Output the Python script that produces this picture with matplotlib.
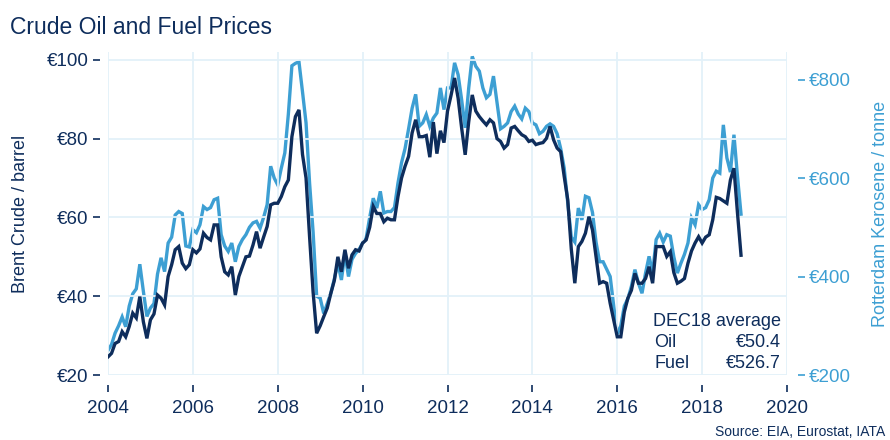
import numpy as np
import matplotlib
matplotlib.use("Agg")
import matplotlib.pyplot as plt
import matplotlib.ticker as mticker

plt.rcParams['font.family'] = ['Liberation Sans', 'DejaVu Sans']

NAVY = '#0e2d5c'
LIGHT = '#3d9fd3'
GRID = '#e3f1f9'

# monthly averages, Jan 2004 .. Dec 2018
brent = [
    24.6, 25.5, 28.0, 28.5, 31.0, 29.7, 32.3, 35.7, 34.5, 39.9, 33.5, 29.3,   # 2004
    34.0, 35.5, 40.3, 39.5, 37.8, 45.0, 48.0, 51.8, 52.6, 48.4, 47.0, 48.0,   # 2005
    51.8, 51.0, 52.0, 56.0, 54.9, 54.3, 58.1, 58.1, 50.0, 46.2, 45.4, 47.5,   # 2006
    40.3, 45.0, 47.5, 50.0, 50.2, 53.0, 56.4, 52.2, 55.0, 57.7, 63.2, 63.6,   # 2007
    63.6, 65.3, 67.8, 69.5, 80.5, 85.6, 87.3, 76.0, 70.0, 55.1, 41.0, 30.6,   # 2008
    32.5, 34.8, 37.0, 40.7, 44.0, 50.0, 46.2, 51.8, 47.1, 50.5, 51.8, 51.5,   # 2009
    53.5, 54.3, 57.5, 62.8, 61.0, 61.0, 58.9, 59.8, 59.4, 59.4, 65.3, 70.0,   # 2010
    73.0, 75.5, 81.5, 84.8, 80.5, 80.5, 80.8, 75.3, 84.2, 76.2, 82.0, 79.0,   # 2011
    87.0, 91.0, 95.4, 90.3, 82.7, 75.9, 84.3, 91.1, 87.0, 85.6, 84.5, 83.5,   # 2012
    84.8, 84.0, 80.0, 79.3, 77.6, 78.5, 82.7, 83.1, 82.0, 81.0, 80.5, 79.3,   # 2013
    79.6, 78.5, 78.8, 79.0, 80.1, 83.1, 79.7, 77.6, 76.7, 70.4, 64.5, 52.0,   # 2014
    43.3, 52.6, 53.9, 56.0, 60.2, 56.8, 50.0, 43.3, 43.7, 43.3, 38.2, 34.0,   # 2015
    29.7, 29.7, 36.0, 39.5, 41.5, 45.8, 43.3, 43.3, 44.5, 47.5, 43.3, 52.6,   # 2016
    52.6, 52.6, 50.1, 51.3, 46.0, 43.3, 43.8, 44.5, 48.4, 51.5, 53.5, 55.1,   # 2017
    53.5, 55.0, 55.6, 59.4, 65.1, 64.8, 64.2, 63.6, 69.5, 72.5, 61.1, 50.4,   # 2018
]

kerosene = [
    250, 262, 285, 300, 318, 298, 340, 365, 375, 425, 370, 319,   # 2004
    336, 345, 405, 438, 410, 468, 480, 525, 532, 528, 462, 460,   # 2005
    495, 489, 505, 542, 536, 540, 556, 559, 485, 462, 451, 468,   # 2006
    430, 461, 475, 485, 500, 509, 512, 498, 520, 546, 624, 600,   # 2007
    586, 620, 651, 730, 828, 833, 836, 775, 712, 590, 490, 360,   # 2008
    356, 325, 345, 366, 395, 427, 393, 447, 400, 435, 447, 455,   # 2009
    468, 478, 520, 559, 539, 573, 529, 532, 532, 540, 590, 631,   # 2010
    660, 700, 742, 770, 705, 712, 729, 705, 722, 732, 783, 739,   # 2011
    783, 783, 834, 810, 759, 702, 783, 847, 827, 817, 783, 763,   # 2012
    770, 807, 753, 700, 705, 712, 735, 746, 730, 720, 742, 735,   # 2013
    712, 708, 690, 695, 705, 710, 705, 690, 660, 620, 550, 480,   # 2014
    470, 539, 515, 563, 560, 530, 470, 430, 430, 415, 400, 340,   # 2015
    283, 300, 340, 355, 380, 414, 386, 366, 407, 441, 407, 475,   # 2016
    488, 470, 485, 482, 440, 407, 427, 445, 468, 519, 505, 546,   # 2017
    536, 540, 556, 600, 614, 610, 708, 641, 612, 688, 603, 526.7, # 2018
]

dates = 2004 + np.arange(len(brent)) / 12.0

year_ticks = [2004, 2006, 2008, 2010, 2012, 2014, 2016, 2018, 2020]
oil_ticks = [20, 40, 60, 80, 100]
fuel_ticks = [200, 400, 600, 800]

fig = plt.figure(figsize=(8.9, 4.4), dpi=100)
ax = fig.add_axes([108 / 890, 1 - 375 / 440, (787 - 108) / 890, (375 - 52) / 440])
ax2 = ax.twinx()

ax2.plot(dates, kerosene, color=LIGHT, lw=2.4, solid_joinstyle='miter')
ax.plot(dates, brent, color=NAVY, lw=2.4, solid_joinstyle='miter')
ax.set_zorder(ax2.get_zorder() + 1)
ax.patch.set_visible(False)

ax.set_xlim(2004, 2020)
ax.set_ylim(20, 102)
ax2.set_ylim(200, 856)

ax.set_xticks(year_ticks)
ax.set_yticks(oil_ticks)
ax2.set_yticks(fuel_ticks)
ax.yaxis.set_major_formatter(mticker.FuncFormatter(lambda v, p: '€%d' % v))
ax2.yaxis.set_major_formatter(mticker.FuncFormatter(lambda v, p: '€%d' % v))

ax.grid(True, color=GRID, lw=1.3)
ax.set_axisbelow(True)

for a in (ax, ax2):
    for s in a.spines.values():
        s.set_visible(False)
ax.spines['left'].set_position(('outward', 6))
ax.spines['bottom'].set_position(('outward', 7))
ax2.spines['right'].set_position(('outward', 8))

ax.tick_params(axis='y', colors=NAVY, labelsize=13.5, length=5, width=1.2, pad=3)
ax.tick_params(axis='x', colors=NAVY, labelsize=13.5, length=5, width=1.2, pad=6)
ax2.tick_params(axis='y', colors=LIGHT, labelsize=13.5, length=5, width=1.2, pad=3)

ax.set_ylabel('Brent Crude / barrel', color=NAVY, fontsize=13, labelpad=13)
ax2.set_ylabel('Rotterdam Kerosene / tonne', color=LIGHT, fontsize=13, labelpad=15)

fig.text(10 / 890, 1 - 28 / 440, 'Crude Oil and Fuel Prices', color=NAVY,
         fontsize=16.5, va='center', ha='left')

# DEC18 average note, placed in data coordinates of the oil axis
note_left, note_right = 2016.87, 2019.86
ax.text(note_right, 33.5, 'DEC18 average', color=NAVY, fontsize=13, ha='right', va='center')
ax.text(note_left, 28.3, 'Oil', color=NAVY, fontsize=13, ha='left', va='center')
ax.text(note_right, 28.3, '€%.1f' % brent[-1], color=NAVY, fontsize=13, ha='right', va='center')
ax.text(note_left, 23.0, 'Fuel', color=NAVY, fontsize=13, ha='left', va='center')
ax.text(note_right, 23.0, '€%.1f' % kerosene[-1], color=NAVY, fontsize=13, ha='right', va='center')

fig.text(885 / 890, 1 - 432 / 440, 'Source: EIA, Eurostat, IATA', color=NAVY,
         fontsize=10, ha='right', va='center')

fig.savefig('out.png', dpi=100)
